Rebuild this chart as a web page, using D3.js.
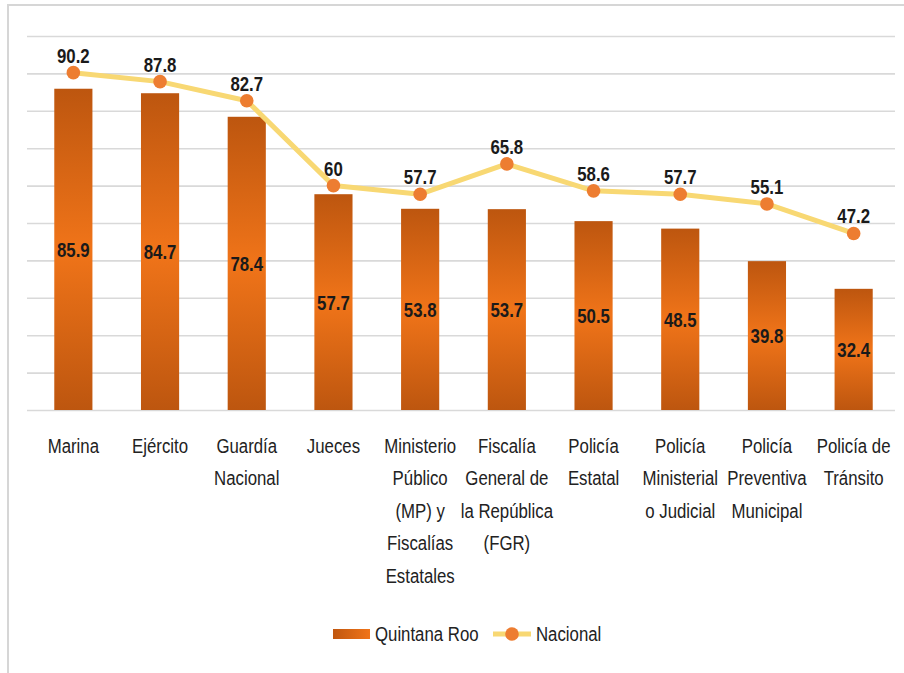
<!DOCTYPE html>
<html>
<head>
<meta charset="utf-8">
<script src="https://cdn.jsdelivr.net/npm/d3@7/dist/d3.min.js"></script>
<style>
  html, body { margin: 0; padding: 0; background: #fff; }
  svg { display: block; }
  text { font-family: "Liberation Sans", Arial, sans-serif; }
</style>
</head>
<body>
<svg id="chart" width="904" height="673"></svg>
<script>
// Confianza en autoridades: Quintana Roo vs. Nacional
const categories = [
  ["Marina"],
  ["Ejército"],
  ["Guardía", "Nacional"],
  ["Jueces"],
  ["Ministerio", "Público", "(MP) y", "Fiscalías", "Estatales"],
  ["Fiscalía", "General de", "la República", "(FGR)"],
  ["Policía", "Estatal"],
  ["Policía", "Ministerial", "o Judicial"],
  ["Policía", "Preventiva", "Municipal"],
  ["Policía de", "Tránsito"]
];
const quintanaRoo = [85.9, 84.7, 78.4, 57.7, 53.8, 53.7, 50.5, 48.5, 39.8, 32.4];
const nacional    = [90.2, 87.8, 82.7, 60, 57.7, 65.8, 58.6, 57.7, 55.1, 47.2];
const gridTicks   = [0, 10, 20, 30, 40, 50, 60, 70, 80, 90, 100];
const seriesNames = ["Quintana Roo", "Nacional"];

// Narrow, condensed look for all labels
const SX = 0.8;
const at = (px, py) => `translate(${px},${py}) scale(${SX},1)`;
const FS = 21;

const svg = d3.select("#chart");
const keys = categories.map((c, i) => "c" + i);

const x = d3.scaleBand().domain(keys).range([30, 897]).paddingInner(0.56).paddingOuter(0.28);
const y = d3.scaleLinear().domain([0, 100]).range([410, 36]);

// Bar fill: darker at the ends, bright orange through the middle
const defs = svg.append("defs");
const grad = defs.append("linearGradient").attr("id", "barFill")
  .attr("x1", 0).attr("y1", 0).attr("x2", 0).attr("y2", 1);
grad.append("stop").attr("offset", "0%").attr("stop-color", "#bd560f");
grad.append("stop").attr("offset", "50%").attr("stop-color", "#f07419");
grad.append("stop").attr("offset", "100%").attr("stop-color", "#bd560f");
const gradH = defs.append("linearGradient").attr("id", "legendFill")
  .attr("x1", 0).attr("y1", 0).attr("x2", 1).attr("y2", 0);
gradH.append("stop").attr("offset", "0%").attr("stop-color", "#c0570f");
gradH.append("stop").attr("offset", "100%").attr("stop-color", "#f07419");

// Outer frame (top and left edges)
svg.append("path").attr("d", "M8,673 V5 H904").attr("fill", "none")
  .attr("stroke", "#d6d6d6").attr("stroke-width", 2);

// Horizontal gridlines
svg.append("g")
  .attr("transform", "translate(27,0)")
  .call(d3.axisLeft(y).tickValues(gridTicks).tickSize(-(895 - 27)).tickFormat(""))
  .call(g => g.select(".domain").remove())
  .call(g => g.selectAll(".tick line").attr("stroke", "#d9d9d9").attr("stroke-width", 1.6));

// Bars
svg.append("g").selectAll("rect").data(quintanaRoo).join("rect")
  .attr("x", (d, i) => x(keys[i]))
  .attr("y", d => y(d))
  .attr("width", x.bandwidth())
  .attr("height", d => y(0) - y(d))
  .attr("fill", "url(#barFill)");

const cx = i => x(keys[i]) + x.bandwidth() / 2;

// Bar value labels
svg.append("g").selectAll("text").data(quintanaRoo).join("text")
  .attr("transform", (d, i) => at(cx(i), (y(d) + y(0)) / 2))
  .attr("dy", "0.36em")
  .attr("text-anchor", "middle")
  .attr("font-size", FS).attr("font-weight", "bold").attr("fill", "#1a1a1a")
  .text(d => d);

// Nacional line
const line = d3.line().x((d, i) => cx(i)).y(d => y(d));
svg.append("path").datum(nacional).attr("d", line)
  .attr("fill", "none").attr("stroke", "#f8d873").attr("stroke-width", 5)
  .attr("stroke-linejoin", "round");
svg.append("g").selectAll("circle").data(nacional).join("circle")
  .attr("cx", (d, i) => cx(i)).attr("cy", d => y(d)).attr("r", 6.8)
  .attr("fill", "#ed7d31");
svg.append("g").selectAll("text").data(nacional).join("text")
  .attr("transform", (d, i) => at(cx(i), y(d) - 10))
  .attr("text-anchor", "middle")
  .attr("font-size", FS).attr("font-weight", "bold").attr("fill", "#1a1a1a")
  .text(d => d);

// Category labels (multi-line)
const catG = svg.append("g").selectAll("text").data(categories).join("text")
  .attr("text-anchor", "middle").attr("font-size", FS).attr("fill", "#222")
  .attr("transform", (d, i) => at(cx(i), 453));
catG.selectAll("tspan").data(d => d).join("tspan")
  .attr("x", 0).attr("y", (d, j) => j * 32.5).text(d => d);

// Legend
const lg = svg.append("g");
lg.append("rect").attr("x", 333).attr("y", 629).attr("width", 37).attr("height", 10)
  .attr("fill", "url(#legendFill)");
lg.append("text").attr("transform", at(375, 641)).attr("font-size", FS).attr("fill", "#222")
  .text(seriesNames[0]);
lg.append("line").attr("x1", 493).attr("x2", 531).attr("y1", 634).attr("y2", 634)
  .attr("stroke", "#f8d873").attr("stroke-width", 5);
lg.append("circle").attr("cx", 512).attr("cy", 634).attr("r", 6.8).attr("fill", "#ed7d31");
lg.append("text").attr("transform", at(536, 641)).attr("font-size", FS).attr("fill", "#222")
  .text(seriesNames[1]);
</script>
</body>
</html>
